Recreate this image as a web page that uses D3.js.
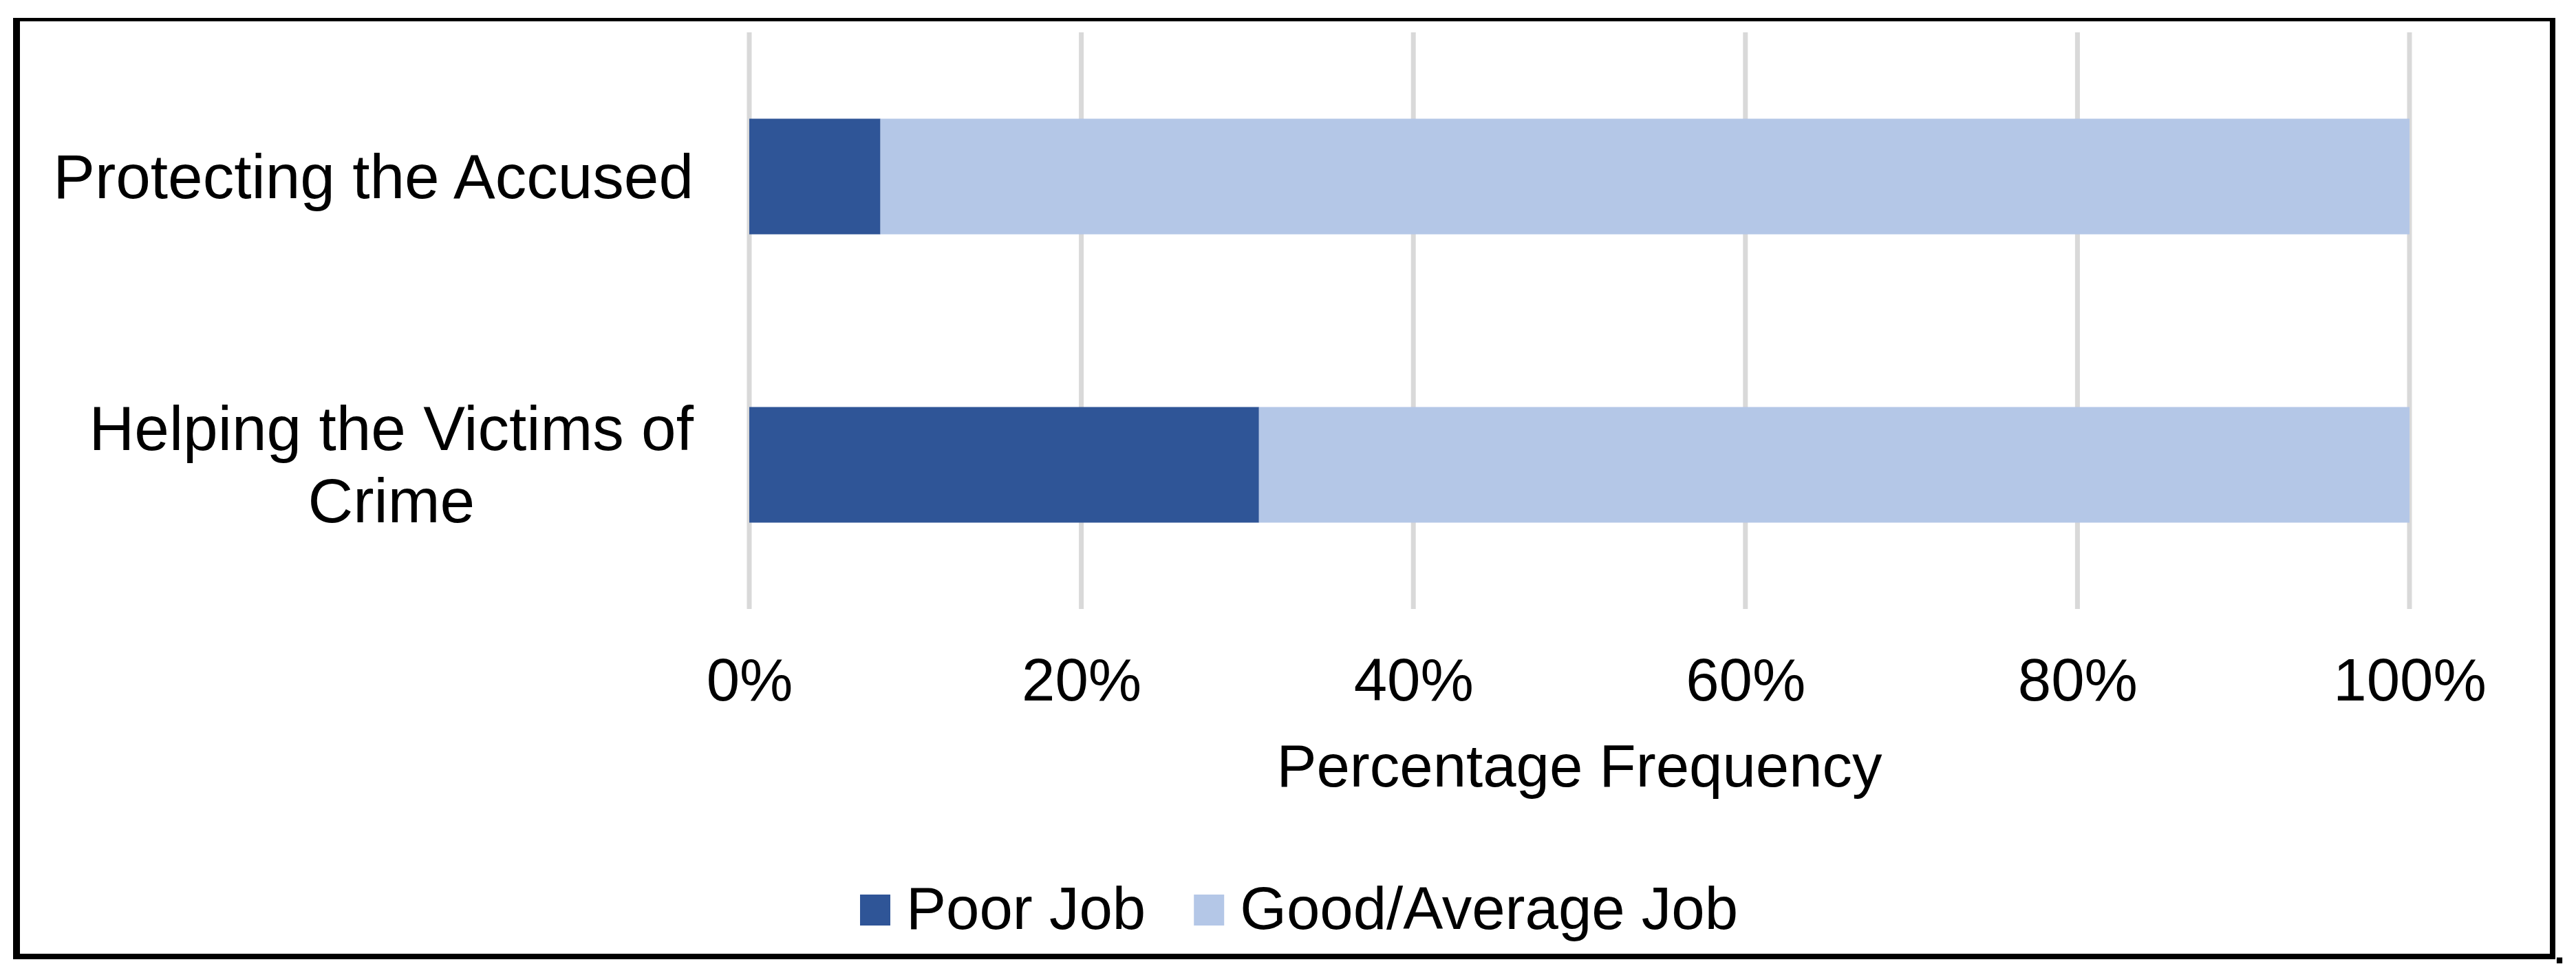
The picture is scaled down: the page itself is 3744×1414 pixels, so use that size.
<!DOCTYPE html>
<html>
<head>
<meta charset="utf-8">
<script src="https://cdn.jsdelivr.net/npm/d3@7"></script>
<style>
  html, body { margin: 0; padding: 0; background: #ffffff; }
  svg { display: block; }
  text { font-family: "Liberation Sans", Arial, sans-serif; fill: #000; }
</style>
</head>
<body>
<svg id="chart" width="3744" height="1414"></svg>
<script>
// ---- data ----
const categories = ["Protecting the Accused", "Helping the Victims of Crime"];
const seriesNames = ["Poor Job", "Good/Average Job"];
const poorJob = [7.9, 30.7];
const goodAverageJob = [92.1, 69.3];
const tickValues = [0, 20, 40, 60, 80, 100];
const xAxisTitle = "Percentage Frequency";
const colors = ["#2F5597", "#B4C7E7"];

const svg = d3.select("#chart");
const W = 3744, H = 1414;
svg.append("rect").attr("width", W).attr("height", H).attr("fill", "#fff");

const x = d3.scaleLinear().domain([0, 100]).range([1089, 3502]);
const y = d3.scaleBand().domain(categories).range([47, 885])
  .paddingInner(0.599).paddingOuter(0.2995);

// gridlines
svg.append("g").selectAll("line").data(tickValues).join("line")
  .attr("x1", d => x(d)).attr("x2", d => x(d))
  .attr("y1", 47).attr("y2", 885)
  .attr("stroke", "#D9D9D9").attr("stroke-width", 7);

// stacked bars
const rows = categories.map((c, i) => ({ cat: c, values: [poorJob[i], goodAverageJob[i]] }));
const stackData = rows.map(r => {
  let acc = 0;
  return r.values.map((v, k) => { const s = acc; acc += v; return { cat: r.cat, k, x0: s, x1: acc }; });
}).flat();

svg.append("g").selectAll("rect").data(stackData).join("rect")
  .attr("x", d => x(d.x0))
  .attr("width", d => x(d.x1) - x(d.x0))
  .attr("y", d => y(d.cat))
  .attr("height", y.bandwidth())
  .attr("fill", d => colors[d.k]);

// x axis tick labels
const xAxis = d3.axisBottom(x).tickValues(tickValues).tickSize(0).tickPadding(0)
  .tickFormat(d => d + "%");
const gx = svg.append("g").attr("transform", "translate(0,1018)").call(xAxis);
gx.select(".domain").remove();
gx.selectAll("text")
  .attr("dy", null).attr("y", 0)
  .style("font-family", '"Liberation Sans", Arial, sans-serif')
  .style("font-size", "87px").attr("fill", "#000");

// axis title
svg.append("text").attr("x", (x(0) + x(100)) / 2).attr("y", 1143)
  .attr("text-anchor", "middle").style("font-size", "87px").text(xAxisTitle);

// category labels (wrapped, block right-aligned, lines centered)
const labelRight = 1008, wrapWidth = 960, lineH = 105, catFont = 91;
categories.forEach(cat => {
  const g = svg.append("g");
  const words = cat.split(" ");
  const lines = [];
  let cur = [];
  const tmp = g.append("text").style("font-size", catFont + "px");
  words.forEach(w => {
    const test = cur.concat([w]).join(" ");
    tmp.text(test);
    if (tmp.node().getComputedTextLength() > wrapWidth && cur.length) {
      lines.push(cur.join(" ")); cur = [w];
    } else cur.push(w);
  });
  if (cur.length) lines.push(cur.join(" "));
  const widths = lines.map(l => { tmp.text(l); return tmp.node().getComputedTextLength(); });
  tmp.remove();
  const maxW = d3.max(widths);
  const cx = labelRight - maxW / 2;
  const cy = y(cat) + y.bandwidth() / 2;
  const firstBase = cy + 31 - (lines.length - 1) * lineH / 2;
  lines.forEach((l, i) => {
    g.append("text").attr("x", cx).attr("y", firstBase + i * lineH)
      .attr("text-anchor", "middle").style("font-size", catFont + "px").text(l);
  });
});

// legend
const legend = svg.append("g");
let lx = 1250;
seriesNames.forEach((name, i) => {
  legend.append("rect").attr("x", lx).attr("y", 1300).attr("width", 44).attr("height", 45)
    .attr("fill", colors[i]);
  const t = legend.append("text").attr("x", lx + 67).attr("y", 1350)
    .style("font-size", "87px").text(name);
  lx = lx + 67 + t.node().getComputedTextLength() + 70;
});

// chart frame
const frame = svg.append("g").attr("fill", "#000");
frame.append("rect").attr("x", 19).attr("y", 26).attr("width", 3695).attr("height", 5);
frame.append("rect").attr("x", 19).attr("y", 26).attr("width", 10).attr("height", 1368);
frame.append("rect").attr("x", 3706).attr("y", 26).attr("width", 8).attr("height", 1368);
frame.append("rect").attr("x", 19).attr("y", 1386).attr("width", 3695).attr("height", 8);

// trailing period after the frame
svg.append("text").attr("x", 3712).attr("y", 1400)
  .style("font-size", "58px").style("font-weight", "bold").text(".");
</script>
</body>
</html>
